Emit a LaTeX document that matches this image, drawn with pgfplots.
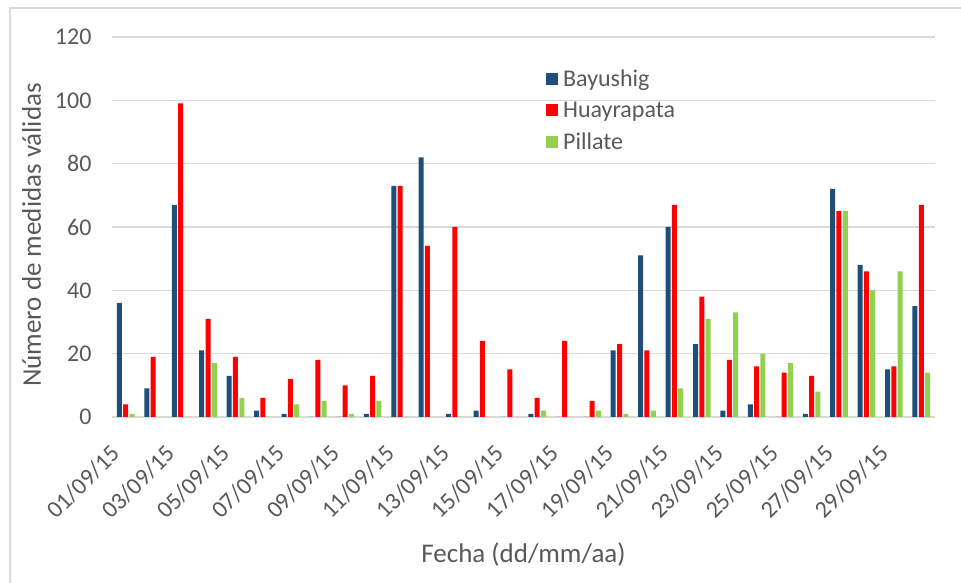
\documentclass[border=0pt]{standalone}
\usepackage{fontspec}
\setmainfont{Carlito}
\usepackage{pgfplots}
\pgfplotsset{compat=1.18}
\definecolor{bayu}{HTML}{1F4E79}
\definecolor{huay}{HTML}{FF0000}
\definecolor{pill}{HTML}{92D050}
\definecolor{txt}{HTML}{595959}
\definecolor{gridc}{HTML}{D9D9D9}

\pgfplotstableread{
day bayu huay pill
1  36  4  1
2   9 19  0
3  67 99  0
4  21 31 17
5  13 19  6
6   2  6  0
7   1 12  4
8   0 18  5
9   0 10  1
10  1 13  5
11 73 73  0
12 82 54  0
13  1 60  0
14  2 24  0
15  0 15  0
16  1  6  2
17  0 24  0
18  0  5  2
19 21 23  1
20 51 21  2
21 60 67  9
22 23 38 31
23  2 18 33
24  4 16 20
25  0 14 17
26  1 13  8
27 72 65 65
28 48 46 40
29 15 16 46
30 35 67 14
}\datatable

\begin{document}
\begin{tikzpicture}
\useasboundingbox (0,0) rectangle (961pt,583pt);
\draw[gridc, line width=1.5pt] (10pt,0) -- (10pt,575pt) -- (961pt,575pt);
\begin{axis}[
    at={(112pt,166pt)}, anchor=south west,
    scale only axis,
    width=823pt, height=380pt,
    ybar=1.3pt, bar width=5pt,
    xmin=0.5, xmax=30.5,
    ymin=0, ymax=120,
    ytick={0,20,...,120},
    xtick={1,3,...,29},
    xticklabels={01/09/15,03/09/15,05/09/15,07/09/15,09/09/15,11/09/15,13/09/15,15/09/15,17/09/15,19/09/15,21/09/15,23/09/15,25/09/15,27/09/15,29/09/15},
    major tick length=0pt,
    axis line style={draw=none},
    ymajorgrids, grid style={gridc, line width=1.2pt},
    /pgf/number format/assume math mode=true,
    tick label style={font=\fontsize{24}{28}\selectfont, text=txt},
    yticklabel style={xshift=-17pt},
    xticklabel style={xshift=-16pt, yshift=-26pt, rotate=45, anchor=north east, inner sep=0pt},
    xlabel={Fecha (dd/mm/aa)},
    ylabel={Número de medidas válidas},
    label style={font=\fontsize{27}{32}\selectfont, text=txt},
    xlabel style={yshift=-19pt},
    ylabel style={yshift=7pt, xshift=-8pt},
    legend cell align=left,
    legend style={at={(0.523,0.925)}, anchor=north west, draw=none, fill=none,
        font=\fontsize{24}{28}\selectfont, text=txt, row sep=10pt},
    legend image code/.code={\fill[#1] (0pt,-6pt) rectangle (12pt,6pt);},
    legend style={nodes={inner xsep=5.5pt}},
]
\addplot[fill=bayu, draw=none] table[x=day, y=bayu] {\datatable};
\addplot[fill=huay, draw=none] table[x=day, y=huay] {\datatable};
\addplot[fill=pill, draw=none] table[x=day, y=pill] {\datatable};
\legend{Bayushig, Huayrapata, Pillate}
\end{axis}
\end{tikzpicture}
\end{document}
